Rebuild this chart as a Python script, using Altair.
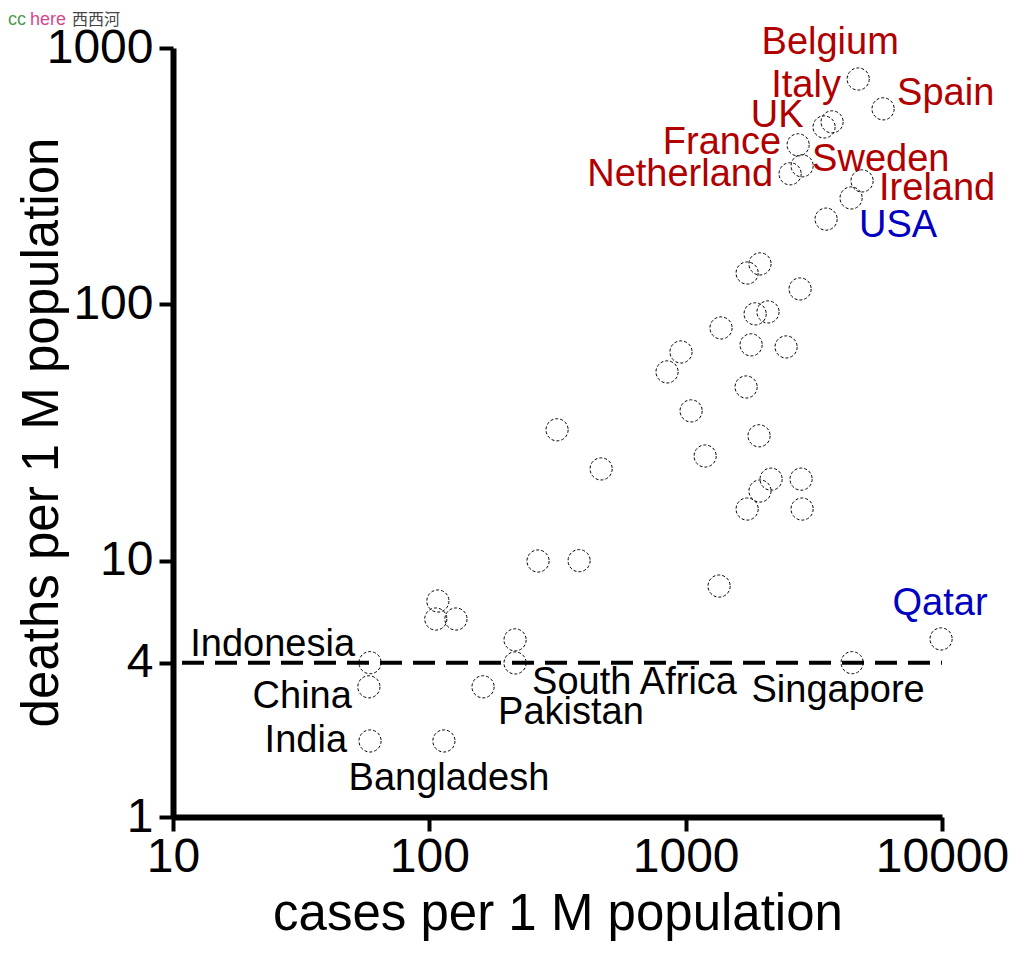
import altair as alt
import pandas as pd

# ---- data ----
labeled_names = ["Belgium", "Italy", "UK", "Spain", "France", "Netherland", "Sweden",
                 "Ireland", "USA", "Qatar", "Indonesia", "China", "India",
                 "Bangladesh", "Pakistan", "South Africa", "Singapore"]
labeled_cases = [4710, 3725, 3467, 5890, 2746, 2555, 2846,
                 4877, 4419, 9916, 58.7, 58.1, 58.7,
                 114, 162, 216, 4460]
labeled_deaths = [757, 515, 492, 579, 419, 323, 347,
                  303, 260, 4.95, 4.0, 3.22, 1.98,
                  1.98, 3.22, 3.99, 4.0]
labeled_group = ["red", "red", "red", "red", "red", "red", "red",
                 "red", "blue", "blue", "black", "black", "black",
                 "black", "black", "black", "black"]

other_cases = [3530, 1950, 1737, 2795, 1866, 2095, 1374, 1800, 2465, 959, 846,
               1721, 1050, 1933, 1191, 2154, 2820, 1950, 1737, 2846,
               315, 468, 265.5, 384, 1350, 108, 106, 127, 216]
other_deaths = [215, 143.8, 132.5, 114.8, 91.8, 93.4, 80.9, 69.5, 68.2, 65.2, 54.5,
                47.6, 38.4, 30.7, 25.6, 20.8, 20.8, 18.7, 15.9, 15.9,
                32.4, 22.8, 9.97, 10.0, 7.96, 6.96, 5.92, 5.92, 4.91]

threshold = 4
x_ticks = [10, 100, 1000, 10000]
y_ticks = [1, 4, 10, 100, 1000]

# ---- styles ----
COLORS = {"red": "#B00000", "blue": "#0000C0", "black": "#000000"}
FONT = "Liberation Sans"
# label placement (align, dx, dy) in pixels relative to its point
LABEL_STYLE = {
    "Belgium": ("center", -28, -36), "Italy": ("center", -26, -36),
    "UK": ("center", -47, -11), "Spain": ("left", 14, -15),
    "France": ("right", -17, -2), "Netherland": ("right", -17, 1),
    "Sweden": ("left", 10, -6), "Ireland": ("left", 17, 8),
    "USA": ("left", 8, 28), "Qatar": ("center", -1, -35),
    "Indonesia": ("right", -15, -18), "China": ("right", -17, 10),
    "India": ("right", -23, 0), "Bangladesh": ("center", 5, 38),
    "Pakistan": ("left", 15, 26), "South Africa": ("left", 17, 20),
    "Singapore": ("center", -14, 28),
}

pts = pd.DataFrame({
    "cases": labeled_cases + other_cases,
    "deaths": labeled_deaths + other_deaths,
})
lab = pd.DataFrame({"name": labeled_names, "cases": labeled_cases,
                    "deaths": labeled_deaths, "group": labeled_group})

xscale = alt.Scale(type="log", domain=[10, 10000], nice=False)
yscale = alt.Scale(type="log", domain=[1, 1000], nice=False)

axis_common = dict(domainWidth=6, domainColor="black", tickWidth=4, tickColor="black",
                   tickSize=14, labelFont=FONT, labelFontSize=48, labelColor="black",
                   titleFont=FONT, titleFontSize=51, titleFontWeight="normal",
                   titleColor="black", grid=False, format="d", labelFlush=False,
                   labelOverlap=False)

x_enc = alt.X("cases:Q", scale=xscale,
              axis=alt.Axis(values=x_ticks, title="cases per 1 M population",
                            labelPadding=2, titlePadding=8, **axis_common))
y_enc = alt.Y("deaths:Q", scale=yscale,
              axis=alt.Axis(values=y_ticks, title="deaths per 1 M population",
                            labelPadding=6, titleX=-131, titleY=384,
                            titleAngle=270, titleAlign="center",
                            titleBaseline="middle", **axis_common))

points = alt.Chart(pts).mark_point(shape="circle", filled=False, size=490,
                                   stroke="black", strokeWidth=1,
                                   strokeDash=[3, 2], opacity=1).encode(x=x_enc, y=y_enc)

rule_df = pd.DataFrame({"x": [x_ticks[0]], "x2": [x_ticks[-1]], "y": [threshold]})
rule = alt.Chart(rule_df).mark_rule(strokeDash=[22, 11], strokeDashOffset=24,
                                    strokeWidth=4, color="black").encode(
    x=alt.X("x:Q", scale=xscale), x2="x2:Q", y=alt.Y("y:Q", scale=yscale))

layers = [rule, points]
for name in labeled_names:
    align, dx, dy = LABEL_STYLE[name]
    row = lab[lab.name == name]
    color = COLORS[row.group.iloc[0]]
    layers.append(
        alt.Chart(row).mark_text(font=FONT, fontSize=38, align=align, baseline="middle",
                                 dx=dx, dy=dy, color=color).encode(
            x=alt.X("cases:Q", scale=xscale), y=alt.Y("deaths:Q", scale=yscale),
            text="name:N"))

# watermark
wm = [("cc", "#4f9a4f", -165, "Liberation Sans", 18),
      ("here", "#d4488c", -143, "Liberation Sans", 18),
      ("西西河", "#444444", -101, "Noto Sans CJK SC", 16)]
for txt, col, xp, fnt, fs in wm:
    layers.append(
        alt.Chart(pd.DataFrame({"t": [txt]})).mark_text(
            font=fnt, fontSize=fs, align="left", baseline="middle", color=col).encode(
            x=alt.value(xp), y=alt.value(-28), text="t:N"))

chart = alt.layer(*layers).properties(
    width=769, height=769,
    padding={"left": 165, "top": 40, "right": 74, "bottom": 125},
    autosize=alt.AutoSizeParams(type="none"),
    background="white",
).configure_view(stroke=None)

chart.save("out.html", embed_options={"renderer": "svg", "actions": False})
